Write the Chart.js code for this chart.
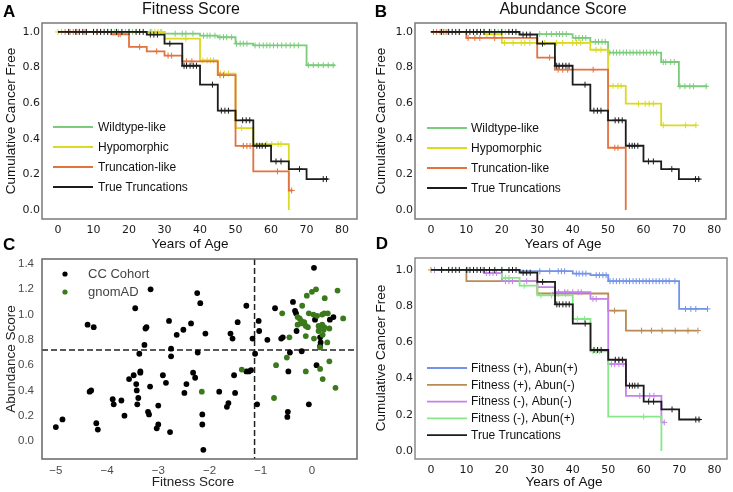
<!DOCTYPE html>
<html>
<head>
<meta charset="utf-8">
<script src="https://cdn.jsdelivr.net/npm/chart.js@4.4.1/dist/chart.umd.min.js"></script>
<style>
  body { margin: 0; background: #fff; }
  #fig { position: relative; width: 733px; height: 492px; overflow: hidden; }
  canvas { position: absolute; }
</style>
</head>
<body>
<div id="fig">
  <canvas id="panelA" width="366" height="258" style="left:0;top:0"></canvas>
  <canvas id="panelB" width="367" height="258" style="left:366px;top:0"></canvas>
  <canvas id="panelC" width="366" height="262" style="left:0;top:230px"></canvas>
  <canvas id="panelD" width="367" height="262" style="left:366px;top:230px"></canvas>
</div>
<script>
// ==================== TICKS ====================
const ageTicks = [0, 10, 20, 30, 40, 50, 60, 70, 80];
const survTicks = [0, 0.2, 0.4, 0.6, 0.8, 1.0];
const fitnessTicks = [-5, -4, -3, -2, -1, 0];
const abundanceTicks = [0, 0.2, 0.4, 0.6, 0.8, 1.0, 1.2, 1.4];

// ==================== TRUE TRUNCATIONS (A, B, D) ====================
const truncAges = [0, 25, 30, 35, 40, 45, 50, 55, 60, 65, 70, 76];
const truncSurv = [1, 0.985, 0.934, 0.81, 0.704, 0.558, 0.504, 0.361, 0.273, 0.23, 0.174, 0.174];
const truncCensor = [3, 5, 6, 7, 8, 10, 11, 12, 13, 14, 15, 16.5, 18, 20, 22, 23, 24, 26, 27, 28, 31.5, 35.5, 36.2, 37.2, 38.1, 39, 43.5, 46, 47, 48, 52, 53, 54, 56, 56.8, 57.5, 58.4, 61.4, 62.8, 68, 74.7, 75.6];

// ==================== A: FITNESS SCORE ====================
const fitWildAges = [0, 30, 40, 45, 50, 55, 70, 78];
const fitWildSurv = [1, 0.99, 0.979, 0.97, 0.934, 0.924, 0.813, 0.813];
const fitWildCensor = [1, 10, 12, 14, 16, 17, 19, 21, 26, 29, 33, 35, 36, 38, 41, 42, 42.8, 44.2, 45.6, 46.6, 47.5, 48.9, 50.3, 51.3, 52.2, 53.2, 55.5, 56.7, 57.8, 58.8, 59.7, 60.7, 61.8, 63, 64.2, 65.4, 66.5, 67.7, 70.5, 71.9, 73.3, 74.7, 76.1, 77.5];
const fitHypoAges = [0, 30, 40, 45, 50, 55, 65];
const fitHypoSurv = [1, 0.962, 0.84, 0.766, 0.46, 0.37, 0.0];
const fitHypoCensor = [0, 1, 26.4, 27.3, 28.2, 29.2, 36, 40.8, 42, 42.9, 43.8, 45.8, 46.8, 48, 51.7, 58.8, 60.2, 62, 62.8];
const fitTruncLikeAges = [0, 15, 20, 25, 30, 35, 45, 50, 55, 65, 66];
const fitTruncLikeSurv = [1, 0.987, 0.916, 0.891, 0.867, 0.835, 0.757, 0.36, 0.217, 0.11, 0.11];
const fitTruncLikeCensor = [2, 3.4, 4.3, 5.3, 7.6, 11, 17, 17.5, 23, 27.8, 31, 32, 36.2, 37.7, 45.6, 46.6, 52.2, 53.2, 54.1, 61.8, 65.8];

// ==================== B: ABUNDANCE SCORE ====================
const abWildAges = [0, 25, 40, 45, 50, 65, 70, 78];
const abWildSurv = [1, 0.988, 0.966, 0.944, 0.884, 0.831, 0.695, 0.695];
const abWildCensor = [4, 8, 13, 15, 17, 19, 21, 23, 30.7, 32.6, 34, 35.4, 36.3, 37.2, 38.2, 40.9, 41.8, 42.8, 43.7, 46.4, 47.3, 48.3, 49.2, 50.5, 51.5, 52.4, 53.3, 54.3, 55.2, 56.2, 57.1, 58.1, 59, 60, 60.9, 61.9, 62.8, 63.7, 65.6, 66.3, 67.7, 68.7, 70.3, 71.7, 73.1, 74.1, 77.7];
const abHypoAges = [0, 15, 20, 45, 50, 55, 65, 75];
const abHypoSurv = [1, 0.987, 0.938, 0.9, 0.697, 0.597, 0.476, 0.476];
const abHypoCensor = [15.8, 17.7, 20.8, 23.2, 25.5, 26.5, 27.9, 32.1, 35.4, 37.2, 40, 41.1, 42.3, 46.6, 48, 51.4, 52.8, 53.7, 58.6, 60.5, 61.6, 62.8, 65.6, 71.9, 74.8];
const abTruncLikeAges = [0, 10, 30, 35, 50, 55];
const abTruncLikeSurv = [1, 0.966, 0.856, 0.788, 0.35, 0.0];
const abTruncLikeCensor = [0.7, 1.6, 2.6, 3.5, 4.5, 10.5, 12.4, 13.8, 18, 33.5, 35.9, 37.2, 38.6, 45.8, 51.9, 52.8];

// ==================== C: SCATTER ====================
const ccFitness = [-5.00, -4.87, -4.38, -4.26, -4.34, -4.31, -4.21, -4.18, -3.89, -3.87, -3.72, -3.66, -3.57, -3.48, -3.45, -3.43, -3.42, -3.39, -3.41, -3.37, -3.35, -3.35, -3.27, -3.25, -3.23, -3.20, -3.18, -3.16, -3.15, -3.03, -3.00, -3.00, -2.91, -2.85, -2.79, -2.77, -2.75, -2.75, -2.64, -2.51, -2.49, -2.45, -2.36, -2.32, -2.28, -2.24, -2.23, -2.18, -2.14, -2.14, -2.12, -2.08, -1.81, -1.66, -1.63, -1.59, -1.55, -1.52, -1.50, -1.45, -1.28, -1.28, -1.23, -1.19, -1.16, -1.11, -1.07, -1.04, -1.03, -0.87, -0.72, -0.60, -0.57, -0.47, -0.48, -0.46, -0.43, -0.37, -0.33, -0.31, -0.30, -0.20, -0.06, 0.04, 0.06, 0.09, 0.16, 0.17, 0.16, 0.35, 0.42];
const ccAbundance = [0.11, 0.17, 0.92, 0.90, 0.39, 0.40, 0.14, 0.09, 0.33, 0.29, 0.32, 0.20, 0.49, 0.52, 1.05, 0.45, 0.40, 0.34, 0.29, 0.69, 0.55, 0.54, 0.76, 0.89, 0.90, 0.23, 0.21, 0.43, 1.20, 0.10, 0.13, 0.28, 0.52, 0.46, 0.95, 0.07, 0.73, 0.67, 0.84, 0.88, 0.38, 0.45, 0.93, 0.54, 0.50, 1.17, 0.70, 1.09, 0.21, 0.13, -0.07, 0.85, 0.39, 0.27, 0.30, 0.85, 0.81, 0.52, 0.38, 0.94, 1.07, 0.55, 0.55, 0.56, 0.81, 0.69, 0.29, 0.95, 0.87, 0.80, 1.05, 0.81, 0.82, 0.23, 0.19, 0.55, 0.70, 1.10, 1.03, 1.01, 0.87, 0.71, 0.29, 1.37, 0.96, 0.60, 0.82, 0.78, 0.75, 0.96, 0.98];
const gnomadFitness = [-2.15, -1.37, -0.74, -0.70, -0.58, -0.49, -0.44, -0.28, -0.24, -0.21, -0.28, -0.20, -0.15, -0.12, -0.08, -0.19, -0.12, -0.12, -0.10, -0.06, 0.00, 0.08, 0.03, 0.10, 0.20, 0.24, 0.31, 0.13, 0.15, 0.20, 0.24, 0.13, 0.23, 0.34, 0.04, 0.21, 0.30, 0.16, 0.25, 0.50, 0.61, 0.34, 0.16, 0.21, 0.46];
const gnomadAbundance = [0.39, 0.565, 0.34, 0.60, 1.01, 0.66, 0.82, 0.98, 0.97, 0.95, 0.92, 0.93, 0.94, 0.91, 0.90, 1.07, 0.83, 0.55, 1.15, 1.01, 1.18, 1.20, 1.00, 0.99, 1.00, 1.01, 1.01, 0.91, 0.89, 0.92, 0.90, 0.87, 0.88, 0.89, 0.81, 0.84, 0.78, 0.74, 1.13, 1.19, 0.97, 0.63, 0.57, 0.49, 0.42];
const fitnessCut = -1.12;
const abundanceCut = 0.72;

// ==================== D: COMBINED ====================
const ffAbPosAges = [0, 25, 40, 45, 50, 70, 78];
const ffAbPosSurv = [1, 0.993, 0.98, 0.971, 0.938, 0.785, 0.785];
const ffAbPosCensor = [1, 3, 10.4, 12, 30.7, 33.5, 35.9, 36.8, 37.7, 41, 41.8, 42.8, 43.7, 46.6, 47.5, 48.5, 49.4, 50.5, 51.4, 52.3, 53.2, 54.2, 55.1, 56, 57, 57.9, 58.8, 59.8, 60.7, 61.6, 62.6, 63.5, 64.4, 65.4, 66.3, 67.2, 68.8, 71.8, 73.3, 74.7, 78];
const fpAbNegAges = [0, 10, 30, 50, 55, 75];
const fpAbNegSurv = [1, 0.938, 0.87, 0.775, 0.665, 0.665];
const fpAbNegCensor = [0, 36, 38, 51.8, 59.4, 62.2, 65.2, 68.9, 72.5, 75.3];
const fnAbNegAges = [0, 15, 20, 30, 35, 45, 50, 55, 65, 66];
const fnAbNegSurv = [1, 0.983, 0.938, 0.905, 0.877, 0.84, 0.48, 0.305, 0.158, 0.158];
const fnAbNegCensor = [1, 14.7, 15.6, 16.6, 17.5, 18.5, 21, 22, 23, 27, 35, 36, 37.7, 38.6, 40, 41.5, 42.4, 45.7, 46.6, 50.9, 51.8, 53, 54.2, 58.9, 61.7, 62.9, 65.8];
const fnAbPosAges = [0, 20, 25, 30, 40, 45, 50, 65];
const fnAbPosSurv = [1, 0.956, 0.913, 0.86, 0.729, 0.551, 0.19, 0.0];
const fnAbPosCensor = [21, 22, 26.3, 31, 34, 41.3, 43.3, 45.7, 46.6, 47.5, 60];

// ==================== HELPERS ====================
const SANS = '"Liberation Sans", Arial, sans-serif';
const DEJAVU = '"DejaVu Sans", sans-serif';

function survAt(ages, surv, t) {
  let s = surv[0];
  ages.forEach((a, i) => { if (a <= t) s = surv[i]; });
  return s;
}

// one step curve + its censor ticks
function kmCurve(label, ages, surv, censor, color, row, order) {
  return [
    {
      label, row, order,
      data: ages.map((a, i) => ({ x: a, y: surv[i] })),
      stepped: 'before',
      borderColor: color, borderWidth: 1.8,
      pointRadius: 0, fill: false
    },
    {
      label: label + ' (censored)', censor: true, order,
      data: censor.map(t => ({ x: t, y: survAt(ages, surv, t) })),
      showLine: false,
      pointStyle: 'cross', pointRadius: 3,
      borderColor: color, borderWidth: 1
    }
  ];
}

function fixedScale(extra) {
  return Object.assign({
    type: 'linear',
    grid: { display: false, drawTicks: false },
    border: { display: false }
  }, extra);
}

function kmScales(xMax, yMin, yMax, yWidth, xHeight) {
  return {
    x: fixedScale({
      min: -4.5, max: xMax,
      afterBuildTicks: s => { s.ticks = ageTicks.map(v => ({ value: v })); },
      afterFit: s => { s.height = xHeight; },
      ticks: { autoSkip: false, maxRotation: 0, padding: 5, color: '#1a1a1a', font: { family: DEJAVU, size: 11 }, callback: v => String(v) }
    }),
    y: fixedScale({
      min: yMin, max: yMax,
      afterBuildTicks: s => { s.ticks = survTicks.map(v => ({ value: v })); },
      afterFit: s => { s.width = yWidth; },
      ticks: { autoSkip: false, padding: 2, color: '#1a1a1a', font: { family: DEJAVU, size: 11 }, callback: v => v.toFixed(1) }
    })
  };
}

// frame, panel letter, titles
const panelDecor = {
  id: 'panelDecor',
  beforeDatasetsDraw(chart, args, o) {
    if (!o.cuts) return;
    const { ctx, chartArea: a, scales } = chart;
    const cx = scales.x.getPixelForValue(o.cuts.x);
    const cy = scales.y.getPixelForValue(o.cuts.y);
    ctx.save();
    ctx.strokeStyle = '#222';
    ctx.lineWidth = 1.5;
    ctx.setLineDash([6, 3]);
    ctx.beginPath();
    ctx.moveTo(cx, a.top); ctx.lineTo(cx, a.bottom);
    ctx.moveTo(a.left, cy); ctx.lineTo(a.right, cy);
    ctx.stroke();
    ctx.restore();
  },
  afterDraw(chart, args, o) {
    const { ctx, chartArea: a } = chart;
    ctx.save();
    ctx.strokeStyle = o.frameColor;
    ctx.lineWidth = 1.5;
    ctx.strokeRect(a.left, a.top, a.right - a.left, a.bottom - a.top);

    ctx.fillStyle = '#000';
    ctx.textAlign = 'left';
    ctx.textBaseline = 'alphabetic';
    ctx.font = 'bold 17px ' + SANS;
    ctx.fillText(o.letter[0], o.letter[1], o.letter[2]);

    ctx.textAlign = 'center';
    if (o.title) {
      ctx.fillStyle = '#111';
      ctx.font = '16px ' + SANS;
      ctx.fillText(o.title[0], o.title[1], o.title[2]);
    }
    ctx.fillStyle = o.textColor;
    ctx.font = '13.5px ' + SANS;
    ctx.fillText(o.xTitle[0], o.xTitle[1], o.xTitle[2]);
    ctx.translate(o.yTitle[1], o.yTitle[2]);
    ctx.rotate(-Math.PI / 2);
    ctx.fillText(o.yTitle[0], 0, 0);
    ctx.restore();
  }
};

// legend drawn inside the plot
const innerLegend = {
  id: 'innerLegend',
  afterDraw(chart, args, o) {
    const ctx = chart.ctx;
    const items = chart.data.datasets.filter(d => !d.censor).sort((p, q) => p.row - q.row);
    ctx.save();
    ctx.font = o.fontSize + 'px ' + SANS;
    ctx.textBaseline = 'middle';
    ctx.textAlign = 'left';
    items.forEach((d, i) => {
      const y = o.y + i * o.gap;
      if (o.dot) {
        ctx.fillStyle = d.backgroundColor;
        ctx.beginPath();
        ctx.arc(o.x, y, 2.6, 0, Math.PI * 2);
        ctx.fill();
      } else {
        ctx.strokeStyle = d.borderColor;
        ctx.lineWidth = 1.8;
        ctx.beginPath();
        ctx.moveTo(o.x, y); ctx.lineTo(o.x + 40, y);
        ctx.stroke();
      }
      ctx.fillStyle = o.color;
      ctx.fillText(d.label, o.textX, y + 0.5);
    });
    ctx.restore();
  }
};

const base = {
  responsive: false,
  animation: false,
  devicePixelRatio: 1,
  events: [],
  plugins: { legend: { display: false }, tooltip: { enabled: false } }
};

function kmChart(id, datasets, scales, padding, decor, legend) {
  new Chart(document.getElementById(id), {
    type: 'line',
    data: { datasets },
    options: Object.assign({}, base, {
      layout: { padding },
      scales,
      plugins: Object.assign({}, base.plugins, { panelDecor: decor, innerLegend: legend })
    }),
    plugins: [panelDecor, innerLegend]
  });
}

// ==================== INIT ====================
const GREEN = '#7ccb7c', YELLOW = '#dada22', ORANGE = '#e2723e', BLACK = '#1c1c1c';

kmChart('panelA', [
  ...kmCurve('Wildtype-like', fitWildAges, fitWildSurv, fitWildCensor, GREEN, 0, 3),
  ...kmCurve('Hypomorphic', fitHypoAges, fitHypoSurv, fitHypoCensor, YELLOW, 1, 2),
  ...kmCurve('Truncation-like', fitTruncLikeAges, fitTruncLikeSurv, fitTruncLikeCensor, ORANGE, 2, 1),
  ...kmCurve('True Truncations', truncAges, truncSurv, truncCensor, BLACK, 3, 0)
], kmScales(84.2, -0.05, 1.05, 42, 39), { top: 23, right: 9, left: 0, bottom: 0 }, {
  frameColor: '#7a7a7a', textColor: '#111',
  letter: ['A', 3, 17], title: ['Fitness Score', 191, 14],
  xTitle: ['Years of Age', 190, 248], yTitle: ['Cumulative Cancer Free', 15, 121]
}, { x: 53, textX: 98, y: 127, gap: 20, fontSize: 12, color: '#111' });

kmChart('panelB', [
  ...kmCurve('Wildtype-like', abWildAges, abWildSurv, abWildCensor, GREEN, 0, 3),
  ...kmCurve('Hypomorphic', abHypoAges, abHypoSurv, abHypoCensor, YELLOW, 1, 2),
  ...kmCurve('Truncation-like', abTruncLikeAges, abTruncLikeSurv, abTruncLikeCensor, ORANGE, 2, 1),
  ...kmCurve('True Truncations', truncAges, truncSurv, truncCensor, BLACK, 3, 0)
], kmScales(83.3, -0.05, 1.05, 49, 39), { top: 23, right: 7, left: 0, bottom: 0 }, {
  frameColor: '#7a7a7a', textColor: '#111',
  letter: ['B', 8.7, 17], title: ['Abundance Score', 197, 14],
  xTitle: ['Years of Age', 197, 248], yTitle: ['Cumulative Cancer Free', 18.5, 121]
}, { x: 61, textX: 105, y: 128, gap: 20, fontSize: 12, color: '#111' });

kmChart('panelD', [
  ...kmCurve('Fitness (+), Abun(+)', ffAbPosAges, ffAbPosSurv, ffAbPosCensor, '#7393e8', 0, 4),
  ...kmCurve('Fitness (+), Abun(-)', fpAbNegAges, fpAbNegSurv, fpAbNegCensor, '#b98a52', 1, 3),
  ...kmCurve('Fitness (-), Abun(-)', fnAbNegAges, fnAbNegSurv, fnAbNegCensor, '#c682ec', 2, 2),
  ...kmCurve('Fitness (-), Abun(+)', fnAbPosAges, fnAbPosSurv, fnAbPosCensor, '#86e886', 3, 1),
  ...kmCurve('True Truncations', truncAges, truncSurv, truncCensor, BLACK, 4, 0)
], kmScales(83.5, -0.044, 1.066, 49, 33), { top: 28, right: 6, left: 0, bottom: 0 }, {
  frameColor: '#8a8a8a', textColor: '#111',
  letter: ['D', 9.7, 19],
  xTitle: ['Years of Age', 198, 256], yTitle: ['Cumulative Cancer Free', 18.7, 128]
}, { x: 61, textX: 105, y: 138, gap: 16.8, fontSize: 12, color: '#111' });

// scatter panel
new Chart(document.getElementById('panelC'), {
  type: 'scatter',
  data: {
    datasets: [
      { label: 'gnomAD', row: 1, data: gnomadFitness.map((x, i) => ({ x, y: gnomadAbundance[i] })), backgroundColor: '#3a7a1c', borderWidth: 0, pointRadius: 2.9 },
      { label: 'CC Cohort', row: 0, data: ccFitness.map((x, i) => ({ x, y: ccAbundance[i] })), backgroundColor: '#000', borderWidth: 0, pointRadius: 2.9 }
    ]
  },
  options: Object.assign({}, base, {
    layout: { padding: { top: 29, right: 9, left: 0, bottom: 0 } },
    scales: {
      x: fixedScale({
        min: -5.27, max: 0.88,
        afterBuildTicks: s => { s.ticks = fitnessTicks.map(v => ({ value: v })); },
        afterFit: s => { s.height = 33; },
        ticks: { autoSkip: false, maxRotation: 0, padding: 5, color: '#4a4a4a', font: { family: SANS, size: 11.5 }, callback: v => v < 0 ? '\u2212' + Math.abs(v) : String(v) }
      }),
      y: fixedScale({
        min: -0.143, max: 1.44,
        afterBuildTicks: s => { s.ticks = abundanceTicks.map(v => ({ value: v })); },
        afterFit: s => { s.width = 42; },
        ticks: { autoSkip: false, padding: 8, color: '#4a4a4a', font: { family: SANS, size: 11.5 }, callback: v => v.toFixed(1) }
      })
    },
    plugins: Object.assign({}, base.plugins, {
      panelDecor: {
        frameColor: '#666', textColor: '#222', cuts: { x: fitnessCut, y: abundanceCut },
        letter: ['C', 3, 20],
        xTitle: ['Fitness Score', 193, 256], yTitle: ['Abundance Score', 15, 129]
      },
      innerLegend: { dot: true, x: 65, textX: 88, y: 44, gap: 18, fontSize: 13, color: '#444' }
    })
  }),
  plugins: [panelDecor, innerLegend]
});
</script>
</body>
</html>
